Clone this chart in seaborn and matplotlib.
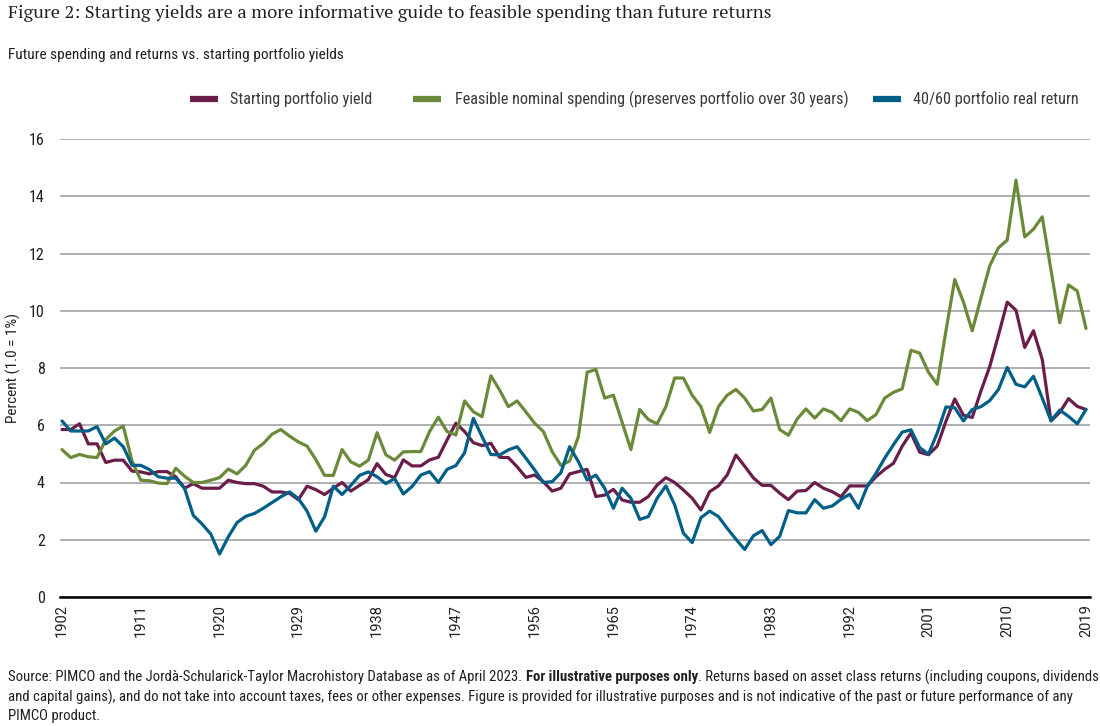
import matplotlib
matplotlib.use("Agg")
import matplotlib.pyplot as plt
from matplotlib.lines import Line2D
import pandas as pd
import seaborn as sns

# values, one per year 1902-2019
years = list(range(1902, 2020))

starting_yield = [
    5.85, 5.85, 6.05, 5.35, 5.35, 4.70, 4.78, 4.78, 4.40, 4.37,
    4.30, 4.38, 4.38, 4.20, 3.80, 3.96, 3.80, 3.80, 3.80, 4.08,
    4.00, 3.96, 3.96, 3.87, 3.67, 3.67, 3.62, 3.40, 3.87, 3.75,
    3.58, 3.80, 4.00, 3.70, 3.90, 4.10, 4.66, 4.28, 4.17, 4.79,
    4.58, 4.58, 4.79, 4.88, 5.49, 6.07, 5.78, 5.39, 5.29, 5.37,
    4.88, 4.87, 4.55, 4.18, 4.26, 4.03, 3.70, 3.80, 4.30, 4.38,
    4.46, 3.51, 3.56, 3.76, 3.39, 3.31, 3.31, 3.51, 3.91, 4.17,
    4.00, 3.74, 3.45, 3.04, 3.68, 3.88, 4.26, 4.96, 4.57, 4.16,
    3.90, 3.90, 3.63, 3.40, 3.70, 3.72, 4.00, 3.80, 3.68, 3.50,
    3.88, 3.88, 3.88, 4.20, 4.46, 4.67, 5.27, 5.73, 5.06, 4.97,
    5.27, 6.14, 6.92, 6.35, 6.27, 7.20, 8.05, 9.15, 10.30, 10.02,
    8.72, 9.30, 8.30, 6.15, 6.45, 6.93, 6.66, 6.55,
]

feasible_spending = [
    5.15, 4.87, 4.98, 4.90, 4.87, 5.50, 5.80, 5.97, 4.75, 4.08,
    4.06, 3.98, 3.96, 4.50, 4.22, 4.00, 4.00, 4.08, 4.17, 4.47,
    4.30, 4.60, 5.13, 5.36, 5.69, 5.85, 5.62, 5.42, 5.27, 4.80,
    4.25, 4.25, 5.15, 4.72, 4.57, 4.78, 5.74, 4.97, 4.78, 5.07,
    5.08, 5.08, 5.78, 6.28, 5.78, 5.66, 6.85, 6.47, 6.30, 7.73,
    7.23, 6.65, 6.85, 6.47, 6.07, 5.78, 5.08, 4.60, 4.75, 5.60,
    7.85, 7.95, 6.95, 7.05, 6.10, 5.15, 6.55, 6.20, 6.05, 6.65,
    7.65, 7.65, 7.05, 6.65, 5.75, 6.65, 7.05, 7.25, 6.95, 6.50,
    6.55, 6.95, 5.85, 5.65, 6.22, 6.57, 6.25, 6.57, 6.45, 6.16,
    6.57, 6.45, 6.16, 6.37, 6.95, 7.15, 7.27, 8.62, 8.52, 7.85,
    7.43, 9.30, 11.09, 10.30, 9.30, 10.45, 11.57, 12.20, 12.47, 14.56,
    12.58, 12.85, 13.28, 11.42, 9.58, 10.90, 10.69, 9.38,
]

real_return = [
    6.15, 5.80, 5.80, 5.80, 5.95, 5.35, 5.55, 5.25, 4.60, 4.60,
    4.45, 4.20, 4.15, 4.15, 3.80, 2.85, 2.55, 2.20, 1.50, 2.10,
    2.60, 2.82, 2.92, 3.10, 3.30, 3.50, 3.67, 3.44, 3.00, 2.30,
    2.80, 3.87, 3.58, 3.90, 4.25, 4.37, 4.20, 3.96, 4.14, 3.60,
    3.86, 4.26, 4.38, 4.00, 4.46, 4.59, 5.04, 6.24, 5.60, 4.98,
    4.96, 5.14, 5.25, 4.85, 4.44, 4.00, 4.03, 4.34, 5.25, 4.73,
    4.09, 4.26, 3.80, 3.10, 3.80, 3.45, 2.71, 2.81, 3.45, 3.88,
    3.22, 2.23, 1.90, 2.77, 3.00, 2.81, 2.40, 2.02, 1.66, 2.14,
    2.32, 1.83, 2.12, 3.02, 2.94, 2.94, 3.40, 3.10, 3.18, 3.41,
    3.59, 3.10, 3.86, 4.32, 4.85, 5.32, 5.76, 5.84, 5.22, 4.99,
    5.73, 6.64, 6.61, 6.15, 6.55, 6.65, 6.86, 7.25, 8.02, 7.43,
    7.34, 7.71, 6.95, 6.16, 6.53, 6.31, 6.05, 6.55,
]

series_names = [
    "Starting portfolio yield",
    "Feasible nominal spending (preserves portfolio over 30 years)",
    "40/60 portfolio real return",
]
series_colors = ["#6b1d4a", "#6a8a3a", "#005f87"]

xtick_years = [1902, 1911, 1920, 1929, 1938, 1947, 1956, 1965, 1974, 1983, 1992, 2001, 2010, 2019]
yticks = [0, 2, 4, 6, 8, 10, 12, 14, 16]

title = "Figure 2: Starting yields are a more informative guide to feasible spending than future returns"
subtitle = "Future spending and returns vs. starting portfolio yields"
ylabel = "Percent (1.0 = 1%)"
footer_1 = ["Source: PIMCO and the Jordà-Schularick-Taylor Macrohistory Database as of April 2023.",
            "For illustrative purposes only",
            ". Returns based on asset class returns (including coupons, dividends"]
footer_2 = ("and capital gains), and do not take into account taxes, fees or other expenses. Figure is provided "
            "for illustrative purposes and is not indicative of the past or future performance of any")
footer_3 = "PIMCO product."

df = pd.DataFrame({
    "year": years,
    series_names[0]: starting_yield,
    series_names[1]: feasible_spending,
    series_names[2]: real_return,
}).melt(id_vars="year", var_name="series", value_name="value")

sns.set_style("white")
plt.rcParams["font.family"] = ["Roboto Condensed", "DejaVu Sans"]
TXT = "#231f20"

W, H = 1100, 726
fig = plt.figure(figsize=(W / 100, H / 100), dpi=100)
ax = fig.add_axes([60 / W, 1 - 597 / H, (1090 - 60) / W, (597 - 139) / H])

sns.lineplot(data=df, x="year", y="value", hue="series", hue_order=series_names,
             palette=series_colors, linewidth=2.3, legend=False, ax=ax)

ppy = (1086 - 62) / 117
ax.set_xlim(1902 - 2 / ppy, 2019 + 4 / ppy)
ax.set_ylim(0, 16)
ax.set_yticks(yticks)
ax.set_xticks(xtick_years)
ax.set_xticklabels([str(y) for y in xtick_years], rotation=90, family="Roboto", fontsize=10.5, color=TXT)
ax.set_yticklabels([str(v) for v in yticks], fontsize=11.5, color=TXT)
ax.tick_params(axis="both", length=0)
ax.tick_params(axis="y", pad=11)
ax.tick_params(axis="x", pad=5)
ax.grid(axis="y", color="#a9a9ad", linewidth=1.3)
ax.grid(axis="x", visible=False)
ax.set_axisbelow(True)
for s in ["top", "right", "left"]:
    ax.spines[s].set_visible(False)
ax.spines["bottom"].set_color("black")
ax.spines["bottom"].set_linewidth(1.8)
ax.spines["bottom"].set_zorder(5)
ax.set_xlabel("")
ax.set_ylabel("")

fig.text(13 / W, 1 - 368 / H, ylabel, rotation=90, ha="center", va="center", fontsize=11, color=TXT)

t_title = fig.text(8 / W, 1 - 13 / H, title, ha="left", va="center",
                   family=["PT Serif", "DejaVu Serif"], fontsize=13, color=TXT)
t_sub = fig.text(8 / W, 1 - 55 / H, subtitle, ha="left", va="center", fontsize=12, color=TXT)

# legend, laid out like the reference (uneven gaps)
leg_y = 1 - 99 / H
leg_pos = [(190, 230), (413, 455), (873, 913)]
leg_texts = []
for (x0, tx), name, col in zip(leg_pos, series_names, series_colors):
    fig.add_artist(Line2D([x0 / W, (x0 + 28) / W], [leg_y, leg_y], color=col, linewidth=4.5,
                          solid_capstyle="butt", transform=fig.transFigure))
    leg_texts.append(fig.text(tx / W, leg_y, name, ha="left", va="center", fontsize=12, color="#3a3a3a"))

# footer
f1 = [fig.text(8 / W, 1 - 677 / H, footer_1[0], ha="left", va="center", fontsize=11, color=TXT),
      fig.text(8 / W, 1 - 677 / H, footer_1[1], ha="left", va="center", fontsize=11, color=TXT, weight="bold"),
      fig.text(8 / W, 1 - 677 / H, footer_1[2], ha="left", va="center", fontsize=11, color=TXT)]
f2 = fig.text(8 / W, 1 - 697 / H, footer_2, ha="left", va="center", fontsize=11, color=TXT)
f3 = fig.text(8 / W, 1 - 716 / H, footer_3, ha="left", va="center", fontsize=11, color=TXT)

fig.canvas.draw()
r = fig.canvas.get_renderer()


def width(t):
    return t.get_window_extent(r).width


def fit(t, target):
    t.set_fontsize(t.get_fontsize() * target / width(t))


fit(t_title, 765)
fit(t_sub, 335)
fit(leg_texts[1], 395)
for t in (leg_texts[0], leg_texts[2]):
    t.set_fontsize(leg_texts[1].get_fontsize())

# scale footer so that the first line spans the reference width
space = fig.text(0, 0, "a a", fontsize=11)
nospace = fig.text(0, 0, "aa", fontsize=11)
sp = width(space) - width(nospace)
space.remove()
nospace.remove()
total = width(f1[0]) + sp + width(f1[1]) + width(f1[2])
scale = 1085 / total
for t in f1 + [f2, f3]:
    t.set_fontsize(11 * scale)
sp *= scale
fig.canvas.draw()
x = 8
f1[0].set_x(x / W)
x += width(f1[0]) + sp
f1[1].set_x(x / W)
x += width(f1[1])
f1[2].set_x(x / W)

fig.savefig("out.png", dpi=100)
